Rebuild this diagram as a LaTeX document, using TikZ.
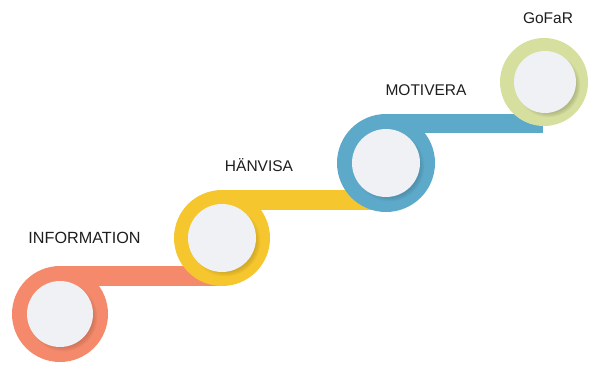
\documentclass[tikz,border=0pt]{standalone}
\usepackage{fontspec}
\setmainfont{Liberation Sans}
\usetikzlibrary{shadows}
\definecolor{csalmon}{HTML}{F4896B}
\definecolor{cyellow}{HTML}{F6C62E}
\definecolor{cblue}{HTML}{5DA9CA}
\definecolor{cgreen}{HTML}{D7DF9F}
\definecolor{cinner}{HTML}{EFF1F4}
\definecolor{ctext}{HTML}{1E1E1E}
\tikzset{
  ring/.style={circle, inner sep=0pt, minimum size=#1},
  disc/.style n args={2}{circle, inner sep=0pt, minimum size=#1, fill=cinner,
    circular drop shadow={shadow scale=1.04, shadow xshift=3pt, shadow yshift=-3pt, opacity=0.55, fill=#2}},
  lab/.style={font=\fontsize{15.5}{18}\selectfont, text=ctext, inner sep=0pt, anchor=base}
}
\begin{document}
\begin{tikzpicture}[x=1pt,y=-1pt]
\useasboundingbox (0,0) rectangle (593,364);
% ring 1
\node[ring=96pt, fill=csalmon] (r1) at (60,314) {};
\fill[csalmon] (r1.north) rectangle (222,286);
% ring 2
\node[ring=96pt, fill=cyellow] (r2) at (222,238) {};
\fill[cyellow] (r2.north) rectangle (386,210);
% ring 3
\node[ring=98pt, fill=cblue] (r3) at (386,163) {};
\fill[cblue] (r3.north) rectangle (543,133);
% ring 4
\node[ring=88pt, fill=cgreen] (r4) at (544,82) {};
% inner discs
\node[disc={66pt}{csalmon!75!black}] (c1) at (r1.center) {};
\node[disc={68pt}{cyellow!75!black}] (c2) at (r2.center) {};
\node[disc={68pt}{cblue!75!black}] (c3) at (r3.center) {};
\node[disc={62pt}{cgreen!70!black}] (c4) at ([xshift=1pt]r4.center) {};
% labels
\node[lab, font=\fontsize{16.2}{18}\selectfont] (l1) at (84.5,243.5) {INFORMATION};
\node[lab] (l2) at (259,171.5) {HÄNVISA};
\node[lab] (l3) at (426,95.5) {MOTIVERA};
\node[lab] (l4) at (548,23) {GoFaR};
\end{tikzpicture}
\end{document}
